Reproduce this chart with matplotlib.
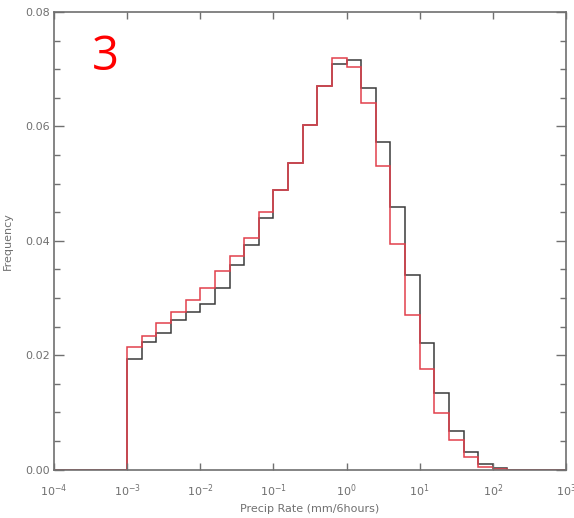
import numpy as np
import matplotlib
matplotlib.use("Agg")
import matplotlib.pyplot as plt
from matplotlib.ticker import MultipleLocator, FixedLocator

# Histogram bins: log10 edges from -3.0 in steps of 0.2 decade
bin_log_start = -3.0
bin_log_width = 0.2

black_freq = [0.0194, 0.0223, 0.0239, 0.0261, 0.0275, 0.0290, 0.0317, 0.0357,
              0.0392, 0.0440, 0.0488, 0.0536, 0.0602, 0.0670, 0.0709, 0.0716,
              0.0667, 0.0573, 0.0459, 0.0340, 0.0221, 0.0133, 0.0068, 0.0030,
              0.0010, 0.0003]
red_freq = [0.0215, 0.0233, 0.0256, 0.0275, 0.0296, 0.0317, 0.0347, 0.0373,
            0.0404, 0.0450, 0.0488, 0.0536, 0.0602, 0.0670, 0.0719, 0.0703,
            0.0641, 0.0530, 0.0394, 0.0271, 0.0175, 0.0099, 0.0051, 0.0021,
            0.0005, 0.0001]

x_ticks = [1e-4, 1e-3, 1e-2, 1e-1, 1e0, 1e1, 1e2, 1e3]
x_ticklabels = ["10$^{-4}$", "10$^{-3}$", "10$^{-2}$", "10$^{-1}$",
                "10$^{0}$", "10$^{1}$", "10$^{2}$", "10$^{3}$"]
y_ticks = [0.00, 0.02, 0.04, 0.06, 0.08]
y_ticklabels = ["0.00", "0.02", "0.04", "0.06", "0.08"]

nb = len(black_freq)
edges = 10 ** (bin_log_start + bin_log_width * np.arange(nb + 1))
full_edges = np.concatenate([[1e-4], edges, [1e3]])
black_full = np.concatenate([[0.0], black_freq, [0.0]])
red_full = np.concatenate([[0.0], red_freq, [0.0]])

fig = plt.figure(figsize=(5.74, 5.18), dpi=100)
ax = fig.add_axes([54 / 574, 1 - 469.5 / 518, (566 - 54) / 574, (469.5 - 12) / 518])

ax.stairs(black_full, full_edges, baseline=None, color="#3a3a3a", lw=1.1)
ax.stairs(red_full, full_edges, baseline=None, color="#e2404c", lw=1.1)

ax.set_xscale("log")
ax.set_xlim(1e-4, 1e3)
ax.set_ylim(0, 0.08)

gray = "#707070"
ax.xaxis.set_major_locator(FixedLocator(x_ticks))
ax.xaxis.set_minor_locator(FixedLocator([]))
ax.set_xticks(x_ticks)
ax.set_xticklabels(x_ticklabels)
ax.set_yticks(y_ticks)
ax.set_yticklabels(y_ticklabels)
ax.yaxis.set_minor_locator(MultipleLocator(0.005))

ax.tick_params(axis="both", which="major", direction="in", length=7, width=1,
               colors=gray, labelsize=8, top=True, right=True)
ax.tick_params(axis="x", which="major", length=5, pad=9)
ax.tick_params(axis="y", which="minor", direction="in", length=4, width=1,
               colors=gray, right=True)
ax.tick_params(axis="y", which="major", pad=3)
for lab in ax.get_xticklabels() + ax.get_yticklabels():
    lab.set_color(gray)

for s in ax.spines.values():
    s.set_color(gray)
    s.set_linewidth(1.2)

ax.set_xlabel("Precip Rate (mm/6hours)", fontsize=8, color=gray, labelpad=4)
ax.set_ylabel("Frequency", fontsize=8, color=gray, labelpad=9)

fig.text(92 / 574, 1 - 57 / 518, "3", color="red", fontsize=34,
         family="Open Sans", ha="left", va="center")

fig.savefig("out.png", dpi=100)
